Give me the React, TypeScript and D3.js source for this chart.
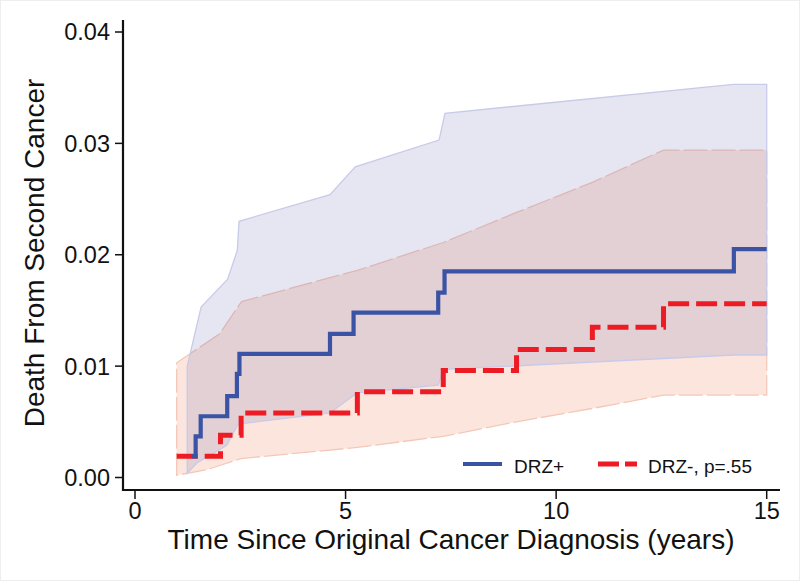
import React from "react";
import * as d3 from "d3";

// DRZ+ (blue) cumulative incidence step curve
const blueTimes = [1.35, 1.44, 1.56, 2.19, 2.42, 2.48, 4.63, 5.19, 7.2, 7.35, 14.22, 15];
const blueValues = [0.0019, 0.0037, 0.0055, 0.0073, 0.0093, 0.0111, 0.0129, 0.0148, 0.0166, 0.0185, 0.0205, 0.0205];
// DRZ- (red) step curve
const redTimes = [0.99, 2.03, 2.52, 5.28, 7.32, 9.06, 10.86, 12.55, 15];
const redValues = [0.0019, 0.0038, 0.0058, 0.0077, 0.0096, 0.0115, 0.0135, 0.0156, 0.0156];

// Confidence bands
const blueUpperTimes = [1.24, 1.57, 2.2, 2.43, 2.47, 4.63, 5.23, 7.22, 7.36, 14.21, 15];
const blueUpperValues = [0.01, 0.0153, 0.0178, 0.0204, 0.023, 0.0254, 0.0279, 0.0303, 0.0327, 0.0353, 0.0353];
const blueLowerTimes = [1.24, 1.47, 2.18, 2.45, 4.63, 5.27, 7.2, 7.32, 14.21, 15];
const blueLowerValues = [0.0004, 0.0013, 0.0029, 0.0048, 0.0058, 0.0076, 0.0083, 0.0097, 0.011, 0.011];

const redUpperTimes = [0.99, 2.01, 2.53, 5.28, 7.32, 9.06, 10.86, 12.55, 15];
const redUpperValues = [0.0103, 0.0129, 0.0158, 0.0186, 0.0211, 0.0238, 0.0265, 0.0294, 0.0294];
const redLowerTimes = [0.99, 1.7, 2.03, 2.52, 5.28, 7.32, 9.06, 10.86, 12.55, 15];
const redLowerValues = [0.0002, 0.0007, 0.0011, 0.0017, 0.0027, 0.0037, 0.005, 0.0062, 0.0074, 0.0074];

const xTicks = [0, 5, 10, 15];
const yTicks = [0, 0.01, 0.02, 0.03, 0.04];
const xTitle = "Time Since Original Cancer Diagnosis (years)";
const yTitle = "Death From Second Cancer";
const legendLabels = ["DRZ+", "DRZ-, p=.55"];

const W = 800;
const H = 581;
const FONT = "'Liberation Sans', Arial, Helvetica, sans-serif";

export default function App() {
  const x = d3.scaleLinear().domain([0, 15]).range([135, 766.7]);
  const y = d3.scaleLinear().domain([0, 0.04]).range([477.5, 32]);

  const zip = (t: number[], v: number[]) => t.map((tt, i) => [tt, v[i]] as [number, number]);

  const stepLine = d3
    .line<[number, number]>()
    .x((d) => x(d[0]))
    .y((d) => y(d[1]))
    .curve(d3.curveStepAfter);

  const bandPath = (ut: number[], uv: number[], lt: number[], lv: number[]) => {
    const upper = zip(ut, uv);
    const lower = zip(lt, lv).reverse();
    const pts = upper.concat(lower);
    return d3
      .line<[number, number]>()
      .x((d) => x(d[0]))
      .y((d) => y(d[1]))(pts) + "Z";
  };

  const xAxisY = 490;
  const yAxisX = 123;

  return (
    <svg
      width={W}
      height={H}
      viewBox={`0 0 ${W} ${H}`}
      style={{ position: "absolute", left: 0, top: 0, background: "#fff" }}
    >
      <rect x={0.5} y={0.5} width={W - 1} height={H - 1} fill="#fff" stroke="#eeeeee" />

      {/* Red band */}
      <path
        d={bandPath(redUpperTimes, redUpperValues, redLowerTimes, redLowerValues)}
        fill="rgb(240,125,85)"
        fillOpacity={0.2}
        stroke="#f4c8b9"
        strokeWidth={1.3}
        strokeDasharray="24 4"
      />
      {/* Blue band */}
      <path
        d={bandPath(blueUpperTimes, blueUpperValues, blueLowerTimes, blueLowerValues)}
        fill="rgb(88,88,168)"
        fillOpacity={0.15}
        stroke="#c8cae9"
        strokeWidth={1.3}
      />

      {/* Step lines */}
      <path
        d={stepLine(zip(redTimes, redValues)) || ""}
        fill="none"
        stroke="#ed1c24"
        strokeWidth={5}
        strokeDasharray="21 7"
      />
      <path
        d={stepLine(zip(blueTimes, blueValues)) || ""}
        fill="none"
        stroke="#3a53a4"
        strokeWidth={4.2}
      />

      {/* Y axis */}
      <line x1={yAxisX} x2={yAxisX} y1={20} y2={xAxisY + 1} stroke="#111" strokeWidth={2.2} />
      {yTicks.map((t) => (
        <g key={t}>
          <line x1={115} x2={yAxisX} y1={y(t)} y2={y(t)} stroke="#111" strokeWidth={1.5} />
          <text
            x={110}
            y={y(t)}
            dy="0.36em"
            textAnchor="end"
            fontFamily={FONT}
            fontSize={23.5}
            fill="#111"
          >
            {d3.format(".2f")(t)}
          </text>
        </g>
      ))}

      {/* X axis */}
      <line x1={yAxisX - 1} x2={780} y1={xAxisY} y2={xAxisY} stroke="#111" strokeWidth={2.2} />
      {xTicks.map((t) => (
        <g key={t}>
          <line x1={x(t)} x2={x(t)} y1={xAxisY} y2={xAxisY + 9} stroke="#111" strokeWidth={1.5} />
          <text
            x={x(t)}
            y={519}
            textAnchor="middle"
            fontFamily={FONT}
            fontSize={23.5}
            fill="#111"
          >
            {t}
          </text>
        </g>
      ))}

      <text x={451} y={549} textAnchor="middle" fontFamily={FONT} fontSize={28} fill="#111">
        {xTitle}
      </text>
      <text
        transform="translate(43.5,253) rotate(-90)"
        textAnchor="middle"
        fontFamily={FONT}
        fontSize={28}
        fill="#111"
      >
        {yTitle}
      </text>

      {/* Legend */}
      <line x1={463} x2={502} y1={464} y2={464} stroke="#3a53a4" strokeWidth={4.2} />
      <text x={514} y={472.5} fontFamily={FONT} fontSize={19} fill="#111">
        {legendLabels[0]}
      </text>
      <line
        x1={598}
        x2={637}
        y1={464}
        y2={464}
        stroke="#ed1c24"
        strokeWidth={5}
        strokeDasharray="21 6"
      />
      <text x={648} y={472.5} fontFamily={FONT} fontSize={19} fill="#111">
        {legendLabels[1]}
      </text>
    </svg>
  );
}
